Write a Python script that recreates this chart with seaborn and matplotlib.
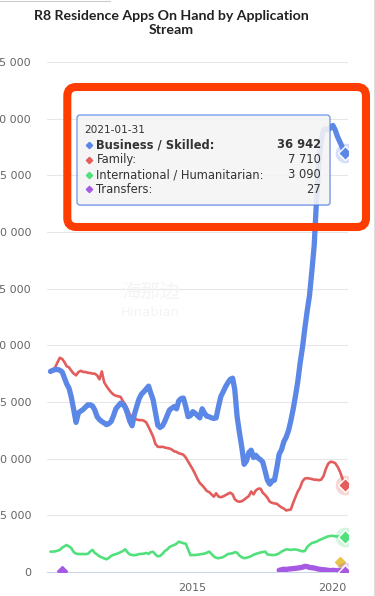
import pandas as pd
import numpy as np
import matplotlib
matplotlib.use("Agg")
import matplotlib.pyplot as plt
import seaborn as sns
from matplotlib.patches import FancyBboxPatch
from matplotlib.lines import Line2D
from matplotlib.transforms import ScaledTranslation

# monthly data, 2010-07-31 .. 2021-01-31
dates = pd.date_range("2010-08-01", periods=127, freq="MS") - pd.Timedelta(days=1)

business = [17700, 17800, 17850, 17880, 17800, 17650, 17100, 16600, 16200, 15400,
            14300, 13200, 14050, 14200, 14340, 14550, 14750, 14750, 14650, 14300,
            13700, 13450, 13280, 13150, 13000, 13100, 13280, 13800, 14400, 14650,
            14900, 14800, 14550, 14000, 13300, 12900, 13950, 14650, 15300, 15700,
            15900, 16150, 16400, 15800, 15200, 14100, 12950, 12750, 12900, 13300,
            13800, 14300, 14450, 14600, 14400, 15100, 15300, 15350, 14600, 13700,
            13800, 14150, 14000, 13800, 13600, 14400, 14000, 13750, 13700, 13600,
            13550, 13600, 14600, 15500, 15900, 16350, 16700, 17000, 17100, 16100,
            13700, 12300, 11000, 9500, 9800, 10550, 10750, 10100, 10300, 10050,
            9900, 9700, 8900, 8100, 7750, 8050, 8100, 9200, 10400, 10800,
            11500, 11900, 12500, 13300, 14340, 15500, 16800, 18400, 19800, 21500,
            23000, 24400, 26500, 28800, 32900, 36000, 38000, 39000, 39100, 39000,
            39200, 39400, 39000, 38400, 37950, 37500, 36942]

family = [17600, 17850, 18050, 18500, 18900, 18800, 18500, 18150, 18050, 17750,
          17500, 17350, 17650, 17750, 17650, 17650, 17580, 17560, 17500, 17500,
          17350, 17000, 17700, 16750, 16400, 16100, 15850, 15650, 15550, 15500,
          15450, 15100, 14800, 14400, 13900, 13650, 13550, 13450, 13400, 13400,
          13350, 13200, 12800, 12400, 11950, 11300, 11050, 11030, 11050, 10980,
          10940, 10900, 10800, 10650, 10600, 10480, 10420, 10350, 10100, 9750,
          9400, 9050, 8650, 8200, 7850, 7650, 7400, 7150, 7050, 6850,
          6650, 6950, 6650, 6600, 6670, 6780, 6900, 7000, 6850, 6430,
          6250, 6200, 6250, 6380, 6550, 6700, 7100, 6850, 7200, 7350,
          7350, 7000, 6800, 6550, 6200, 6100, 6050, 6020, 5850, 5700,
          5600, 5430, 5480, 5500, 6080, 6600, 7100, 7450, 8000, 8250,
          8280, 8250, 8200, 8150, 8140, 8100, 8150, 8450, 9100, 9550,
          9730, 9700, 9600, 9300, 8880, 8300, 7710]

humanitarian = [1800, 1800, 1820, 1880, 1950, 2150, 2280, 2380, 2250, 2100,
                1750, 1620, 1590, 1580, 1590, 1580, 1600, 1800, 1950, 1680,
                1550, 1380, 1290, 1200, 1120, 1250, 1420, 1520, 1580, 1650,
                1750, 1850, 2000, 1750, 1550, 1500, 1480, 1520, 1580, 1600,
                1620, 1680, 1600, 1750, 1780, 1550, 1380, 1420, 1600, 1850,
                1980, 2200, 2300, 2380, 2500, 2680, 2600, 2540, 2500, 2000,
                1480, 1500, 1500, 1520, 1560, 1590, 1620, 1700, 1800, 1600,
                1380, 1250, 1220, 1260, 1320, 1450, 1580, 1620, 1650, 1750,
                1700, 1450, 1300, 1220, 1250, 1320, 1400, 1520, 1600, 1660,
                1720, 1760, 1800, 1560, 1520, 1500, 1500, 1550, 1650, 1800,
                1900, 2000, 1980, 1950, 1980, 1990, 1950, 1880, 1820, 1850,
                2200, 2400, 2550, 2620, 2680, 2800, 2880, 2980, 3060, 3150,
                3180, 3190, 3150, 3130, 3120, 3100, 3090]

# transfers: one early point, then a run from 2018-09
transfer_early_date = "2010-12-31"
transfer_early = 100
transfers = [150, 200, 250, 220, 260, 280, 300, 320, 350, 380,
             420, 500, 480, 400, 380, 350, 300, 250, 220, 200,
             180, 150, 120, 150, 130, 100, 120, 80, 27]
transfer_dates = dates[-len(transfers):]

# lone yellow point
other_date = "2020-11-30"
other_value = 850

y_ticks = list(range(0, 45001, 5000))
x_ticks = ["2015-01-01", "2020-01-01"]
x_labels = ["2015", "2020"]

tooltip_date = "2021-01-31"
tooltip_rows = [("Business / Skilled:", "36 942"), ("Family:", "7 710"),
                ("International / Humanitarian:", "3 090"), ("Transfers:", "27")]

c_blue = "#5b87e6"
c_red = "#e35d5d"
c_green = "#52e07c"
c_purple = "#a659e3"
c_yellow = "#e8c44a"

sns.set_style("white")
plt.rcParams["font.family"] = ["DejaVu Sans"]

W, H = 375, 596
fig = plt.figure(figsize=(W / 100, H / 100), dpi=100)
ax = fig.add_axes([47 / W, 1 - 572 / H, (348 - 47) / W, (572 - 62) / H])


def inch(x, y):
    # pixel (from top-left) -> inches for dpi_scale_trans
    return x / 100, (H - y) / 100


df = pd.DataFrame({"date": dates, "business": business, "family": family,
                   "humanitarian": humanitarian})
tf = pd.DataFrame({"date": transfer_dates, "transfers": transfers})

sns.lineplot(data=df, x="date", y="humanitarian", ax=ax, color=c_green, linewidth=1.9, zorder=3)
sns.lineplot(data=tf, x="date", y="transfers", ax=ax, color=c_purple, linewidth=3.8, zorder=3)
sns.lineplot(data=df, x="date", y="family", ax=ax, color=c_red, linewidth=1.9, zorder=4)
sns.lineplot(data=df, x="date", y="business", ax=ax, color=c_blue, linewidth=3.8, zorder=5)

ax.plot(pd.Timestamp(transfer_early_date), transfer_early, marker="D", ms=5,
        color=c_purple, zorder=4)
ax.plot(pd.Timestamp(other_date), other_value, marker="D", ms=5, color=c_yellow,
        zorder=4)

# hover halos + markers on the last point
last = dates[-1]
for val, col in [(business[-1], c_blue), (family[-1], c_red),
                 (humanitarian[-1], c_green), (transfers[-1], c_purple)]:
    ax.scatter([last], [val], s=200, color=col, alpha=0.25, linewidths=0, zorder=6)
    ax.plot(last, val, marker="D", ms=7, color=col, mec="white", mew=1, zorder=7)

ax.set_ylim(0, 45000)
ax.set_xlim(pd.Timestamp("2010-06-16"), pd.Timestamp("2021-03-16"))
ax.set_yticks(y_ticks)
ax.set_yticklabels([f"{v:,}".replace(",", " ") for v in y_ticks])
ax.set_xticks([pd.Timestamp(d) for d in x_ticks])
ax.set_xticklabels(x_labels, ha="left")
ax.set_xlabel("")
ax.set_ylabel("")
ax.grid(axis="y", color="#e6e6e6", linewidth=0.75)
ax.grid(axis="x", visible=False)
for s in ["top", "right", "left"]:
    ax.spines[s].set_visible(False)
ax.spines["bottom"].set_color("#ccd6eb")
ax.spines["bottom"].set_linewidth(0.75)
ax.tick_params(axis="y", length=0, pad=11.5, labelsize=8, labelcolor="#666666")
ax.tick_params(axis="x", length=7, width=0.75, color="#ccd6eb", pad=1,
               labelsize=8, labelcolor="#666666", direction="out")
for lab in ax.get_xticklabels():
    lab.set_transform(lab.get_transform() + ScaledTranslation(0.04, 0, fig.dpi_scale_trans))

# watermark
fig.text(150 / W, 1 - 292 / H, "海那边", fontsize=14, color="#f4f4f4", ha="center",
         va="center", family=["Noto Sans CJK SC", "DejaVu Sans"])
fig.text(150 / W, 1 - 312 / H, "Hinabian", fontsize=9.5, color="#f4f4f4",
         ha="center", va="center")

fig.suptitle("R8 Residence Apps On Hand by Application\nStream", x=171 / W,
             y=1 - 10 / H, va="top", fontsize=10.2, fontweight="bold",
             family=["Lato", "DejaVu Sans"], color="#222222", linespacing=1.2)

# tooltip
x0, y0 = inch(77, 205)
x1, y1 = inch(330, 115)
shadow = FancyBboxPatch((x0 + 0.01, y0 - 0.01), x1 - x0, y1 - y0,
                        boxstyle="round,pad=0,rounding_size=0.03",
                        transform=fig.dpi_scale_trans, facecolor="black",
                        alpha=0.08, edgecolor="none", zorder=8)
box = FancyBboxPatch((x0, y0), x1 - x0, y1 - y0,
                     boxstyle="round,pad=0,rounding_size=0.03",
                     transform=fig.dpi_scale_trans, facecolor="#f7f7f7",
                     alpha=0.88, edgecolor=c_blue, linewidth=0.9, zorder=9)
fig.add_artist(shadow)
fig.add_artist(box)

tx, ty = inch(84, 130)
fig.text(tx, ty, tooltip_date, transform=fig.dpi_scale_trans, fontsize=7.6,
         color="#333333", va="center", zorder=10)
row_y = [144.5, 160, 174.5, 189.5]
for (label, val), col, yy in zip(tooltip_rows, [c_blue, c_red, c_green, c_purple], row_y):
    bx, by = inch(88.5, yy)
    fig.add_artist(Line2D([bx], [by], transform=fig.dpi_scale_trans, marker="D",
                          ms=3.2, color=col, mec=col, zorder=10))
    weight = "bold" if label.startswith("Business") else "normal"
    lx, ly = inch(96.5, yy)
    fig.text(lx, ly, label, transform=fig.dpi_scale_trans, fontsize=8.3,
             fontweight=weight, color="#333333", va="center", zorder=10)
    vx, vy = inch(321, yy)
    fig.text(vx, vy, val, transform=fig.dpi_scale_trans, fontsize=8.3,
             fontweight=weight, color="#333333", va="center", ha="right", zorder=10)

# red annotation frame
rx0, ry0 = inch(67.3, 227)
rx1, ry1 = inch(366, 87)
frame = FancyBboxPatch((rx0, ry0), rx1 - rx0, ry1 - ry0,
                       boxstyle="round,pad=0,rounding_size=0.09",
                       transform=fig.dpi_scale_trans, facecolor="none",
                       edgecolor="#ff3d00", linewidth=5.8, zorder=11)
fig.add_artist(frame)

# page border bits
fig.add_artist(Line2D([373.5 / W] * 2, [0, 1], transform=fig.transFigure,
                      color="#dddddd", linewidth=0.8))
fig.add_artist(Line2D([0, 110 / W], [1 - 0.5 / H] * 2, transform=fig.transFigure,
                      color="#cccccc", linewidth=0.8))

fig.savefig("out.png", dpi=100)
